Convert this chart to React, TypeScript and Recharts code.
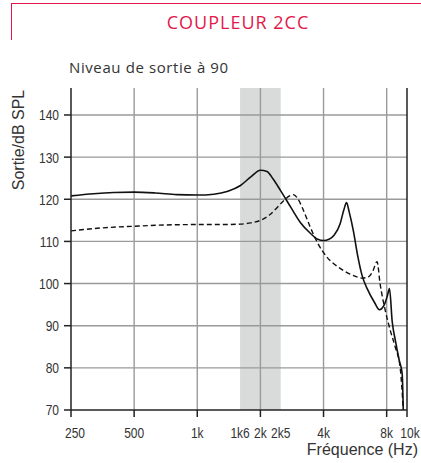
import React from "react";
import { LineChart, Line, XAxis, YAxis, ReferenceLine, ReferenceArea } from "recharts";

const xTicks = [250, 500, 1000, 1600, 2000, 2500, 4000, 8000, 10000];
const xTickLabels = ["250", "500", "1k", "1k6", "2k", "2k5", "4k", "8k", "10k"];
const xGrid = [500, 1000, 2000, 4000, 8000];
const yTicks = [70, 80, 90, 100, 110, 120, 130, 140];
const yGrid = [80, 90, 100, 110, 120, 130, 140];
const band = [1600, 2500];

// courbe pleine
const solidFreq = [250, 320, 400, 500, 630, 800, 1000, 1200, 1400, 1600, 1800, 2000, 2150, 2300, 2500, 2800, 3100, 3450, 3750, 4000, 4250, 4500, 4800, 5000, 5150, 5300, 5550, 5800, 6100, 6500, 7000, 7380, 7800, 8050, 8250, 8500, 8800, 9180, 9480, 9600];
const solidLevel = [120.8, 121.3, 121.6, 121.7, 121.5, 121.1, 121.0, 121.2, 121.9, 123.2, 125.3, 126.9, 126.6, 124.8, 122.0, 118.0, 114.5, 112.0, 110.5, 110.2, 110.5, 111.5, 114.2, 117.5, 119.2, 117.0, 112.5, 107.0, 102.0, 98.5, 95.5, 93.8, 95.0, 97.0, 98.8, 91.0, 86.5, 81.8, 78.7, 70];

// courbe pointillée
const dashedFreq = [250, 350, 500, 700, 1000, 1300, 1600, 1800, 2000, 2200, 2400, 2600, 2750, 2870, 3000, 3200, 3450, 3750, 4150, 4800, 5500, 6100, 6500, 6850, 7200, 7440, 7880, 8310, 8780, 9280, 9600];
const dashedLevel = [112.5, 113.2, 113.6, 113.9, 114.0, 114.0, 114.1, 114.4, 115.0, 116.2, 118.0, 119.8, 120.8, 121.1, 120.3, 117.5, 113.5, 109.6, 106.3, 103.6, 102.0, 101.3, 101.5, 102.8, 105.2, 100.0, 93.6, 89.0, 85.0, 80.0, 70];

const solidData = solidFreq.map((f, i) => ({ f, v: solidLevel[i] }));
const dashedData = dashedFreq.map((f, i) => ({ f, v: dashedLevel[i] }));

const tickFont = "'Liberation Sans', Arial, sans-serif";

function FreqTick(props: any) {
  const { x, y, payload } = props;
  const i = xTicks.indexOf(payload.value);
  const noMark = payload.value === 1600 || payload.value === 2500;
  let dx = 0;
  if (payload.value === 250) dx = 4;
  if (payload.value === 10000) dx = 3;
  return (
    <g>
      {!noMark && <line x1={x} x2={x} y1={y} y2={y + 7} stroke="#222" strokeWidth={1.5} />}
      <text transform={`translate(${x + dx},${y + 28}) scale(0.8,1)`} textAnchor="middle" fill="#333" fontSize={15} fontFamily={tickFont}>
        {xTickLabels[i]}
      </text>
    </g>
  );
}

function LevelTick(props: any) {
  const { x, y, payload } = props;
  return (
    <text transform={`translate(${x},${y}) scale(0.8,1)`} dy="0.36em" textAnchor="end" fill="#333" fontSize={15} fontFamily={tickFont}>
      {payload.value}
    </text>
  );
}

export default function App() {
  return (
    <div style={{ position: "absolute", left: 0, top: 0, width: 421, height: 463, background: "#fff" }}>
      <div style={{ position: "absolute", left: 11, top: 3, width: 410, height: 36, borderTop: "1.5px solid #e2184b", borderLeft: "1.5px solid #e2184b" }} />
      <div style={{ position: "absolute", left: 100, width: 276, top: 9, textAlign: "center", color: "#e2184b", fontFamily: "'Open Sans', sans-serif", fontSize: 18, letterSpacing: 1, lineHeight: "26px" }}>
        COUPLEUR 2CC
      </div>
      <div style={{ position: "absolute", left: 69, top: 56, color: "#333", fontFamily: "'Open Sans', sans-serif", fontSize: 15, letterSpacing: 0.6, lineHeight: "22px" }}>
        Niveau de sortie à 90
      </div>
      <div style={{ position: "absolute", left: 19, top: 140, width: 0, height: 0 }}>
        <div style={{ position: "absolute", transform: "translate(-50%, -50%) rotate(-90deg)", whiteSpace: "nowrap", color: "#333", fontFamily: "'Liberation Sans', Arial, sans-serif", fontSize: 16, lineHeight: "18px" }}>
          Sortie/dB SPL
        </div>
      </div>
      <div style={{ position: "absolute", right: 3, top: 440, color: "#333", fontFamily: "'Liberation Sans', Arial, sans-serif", fontSize: 16, lineHeight: "20px" }}>
        Fréquence (Hz)
      </div>
      <div style={{ position: "absolute", left: 0, top: 0 }}>
        <LineChart width={421} height={463} margin={{ top: 88, right: 14, bottom: 0, left: 0 }}>
          <XAxis
            dataKey="f"
            type="number"
            scale="log"
            domain={[250, 10000]}
            ticks={xTicks}
            interval={0}
            allowDataOverflow
            height={53}
            tickSize={0}
            tickMargin={0}
            tickLine={false}
            axisLine={{ stroke: "#222", strokeWidth: 1.5 }}
            tick={<FreqTick />}
          />
          <YAxis
            type="number"
            domain={[70, 146.4]}
            ticks={yTicks}
            interval={0}
            allowDataOverflow
            width={71}
            tickSize={7}
            tickMargin={5}
            axisLine={{ stroke: "#222", strokeWidth: 1.5 }}
            tickLine={{ stroke: "#222", strokeWidth: 1.5 }}
            tick={<LevelTick />}
          />
          <ReferenceArea x1={band[0]} x2={band[1]} fill="#d9dada" fillOpacity={1} stroke="none" />
          {xGrid.map((x) => (
            <ReferenceLine key={"x" + x} x={x} stroke="#9a9a9a" strokeWidth={1.4} />
          ))}
          {yGrid.map((y) => (
            <ReferenceLine key={"y" + y} y={y} stroke="#9a9a9a" strokeWidth={1.4} />
          ))}
          <ReferenceLine x={10000} stroke="#222" strokeWidth={1.5} />
          <Line data={dashedData} dataKey="v" type="monotone" stroke="#111" strokeWidth={1.4} strokeDasharray="5 3" dot={false} isAnimationActive={false} />
          <Line data={solidData} dataKey="v" type="monotone" stroke="#111" strokeWidth={1.6} dot={false} isAnimationActive={false} />
        </LineChart>
      </div>
    </div>
  );
}
